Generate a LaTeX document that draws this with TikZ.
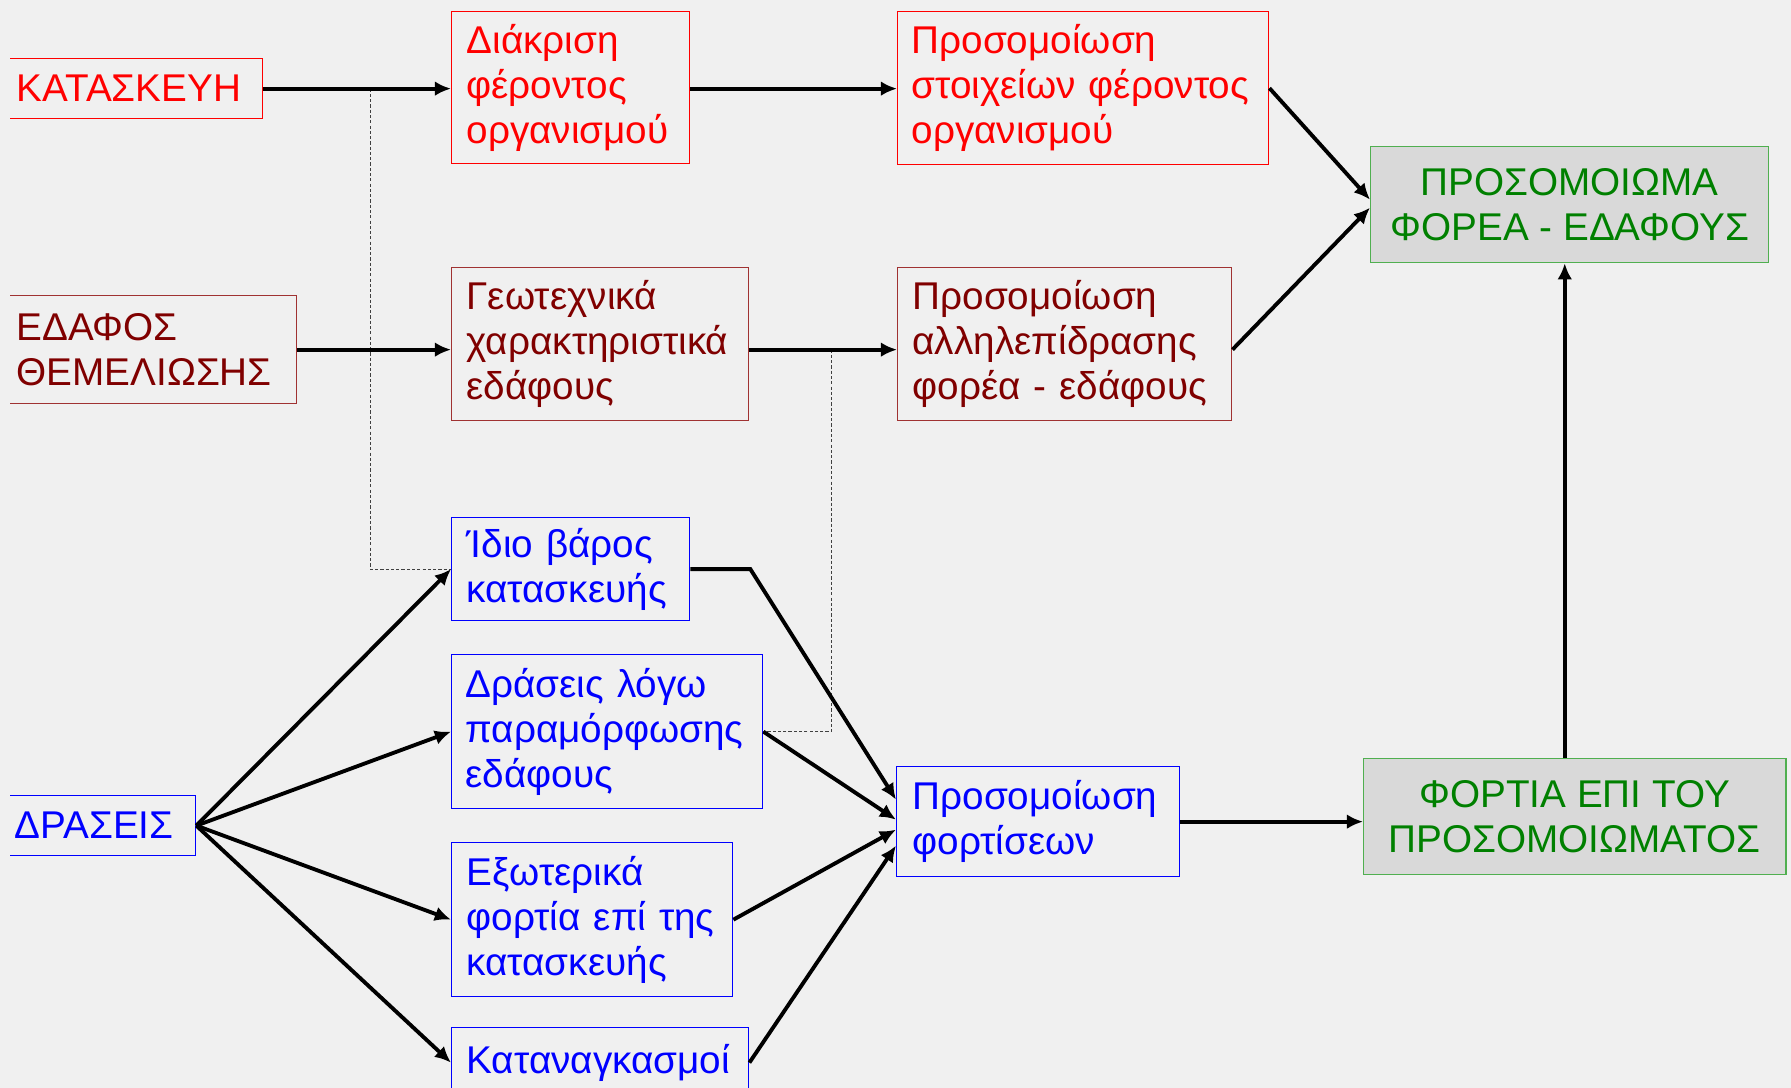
\documentclass[tikz,border=0pt]{standalone}
\usepackage{fontspec}
\setmainfont{Liberation Sans}
\usetikzlibrary{arrows.meta, positioning, calc}
\definecolor{bgcol}{RGB}{240,240,240}
\definecolor{txtred}{RGB}{255,0,0}
\definecolor{txtmaroon}{RGB}{128,0,0}
\definecolor{linemaroon}{RGB}{160,50,50}
\definecolor{txtblue}{RGB}{0,0,255}
\definecolor{txtgreen}{RGB}{0,128,0}
\definecolor{linegreen}{RGB}{80,175,80}
\definecolor{fillgrey}{RGB}{217,217,217}

\begin{document}
\begin{tikzpicture}[x=0.01cm, y=-0.01cm,
    box/.style={rectangle, anchor=north west, inner sep=0pt, align=left, line width=0.35pt, font=\fontsize{11}{12.8}\selectfont},
    redbox/.style={box, draw=txtred, text=txtred},
    maroonbox/.style={box, draw=linemaroon, text=txtmaroon},
    bluebox/.style={box, draw=txtblue, text=txtblue},
    result_box/.style={box, align=center, draw=linegreen, fill=fillgrey, text=txtgreen},
    arr/.style={-{Latex[length=4.6pt, width=4.2pt]}, line width=1.1pt, black},
    tap/.style={draw=gray!50!black, line width=0.3pt, dash pattern=on 0.9pt off 0.6pt}
]

\useasboundingbox (0,0) rectangle (1791,1088);
\fill[bgcol] (0,0) rectangle (1791,1088);
\clip (10,0) rectangle (1791,1088);

% structure and soil
\node[redbox, minimum width=2.62cm, minimum height=0.60cm, text width=2.30cm] (kat) at (0,58) {ΚΑΤΑΣΚΕΥΗ};
\node[redbox, minimum width=2.38cm, minimum height=1.52cm, text width=2.08cm] (dia) at (451,11) {Διάκριση\\φέροντος\\οργανισμού};
\node[redbox, minimum width=3.71cm, minimum height=1.53cm, text width=3.43cm] (stoix) at (897,11) {Προσομοίωση\\στοιχείων φέροντος\\οργανισμού};
\node[result_box, minimum width=3.98cm, minimum height=1.16cm] (model) at (1370,146) {ΠΡΟΣΟΜΟΙΩΜΑ\\ΦΟΡΕΑ - ΕΔΑΦΟΥΣ};
\node[maroonbox, minimum width=2.96cm, minimum height=1.08cm, text width=2.64cm] (edafos) at (0,295) {ΕΔΑΦΟΣ\\ΘΕΜΕΛΙΩΣΗΣ};
\node[maroonbox, minimum width=2.97cm, minimum height=1.53cm, text width=2.67cm] (geo) at (451,267) {Γεωτεχνικά\\χαρακτηριστικά\\εδάφους};
\node[maroonbox, minimum width=3.34cm, minimum height=1.53cm, text width=3.04cm] (allil) at (897,267) {Προσομοίωση\\αλληλεπίδρασης\\φορέα - εδάφους};

% actions
\node[bluebox, minimum width=2.38cm, minimum height=1.03cm, text width=2.08cm] (idio) at (451,517) {Ίδιο βάρος\\κατασκευής};
\node[bluebox, minimum width=3.11cm, minimum height=1.54cm, text width=2.83cm] (paramorf) at (451,654) {Δράσεις λόγω\\παραμόρφωσης\\εδάφους};
\node[bluebox, minimum width=1.95cm, minimum height=0.60cm, text width=1.67cm] (draseis) at (0,795) {ΔΡΑΣΕΙΣ};
\node[bluebox, minimum width=2.81cm, minimum height=1.54cm, text width=2.51cm] (ext) at (451,842) {Εξωτερικά\\φορτία επί της\\κατασκευής};
\node[bluebox, minimum width=2.97cm, minimum height=0.70cm, text width=2.67cm] (katan) at (451,1027) {Καταναγκασμοί};
\node[bluebox, minimum width=2.83cm, minimum height=1.10cm, text width=2.51cm] (fort) at (896,766) {Προσομοίωση\\φορτίσεων};
\node[result_box, minimum width=4.22cm, minimum height=1.16cm] (loads) at (1363,758) {ΦΟΡΤΙΑ ΕΠΙ ΤΟΥ\\ΠΡΟΣΟΜΟΙΩΜΑΤΟΣ};

\coordinate (tap1) at ($(kat.east)!0.57!(kat.east -| dia.west)$);
\coordinate (tap2) at ($(geo.east |- edafos.east)!0.557!(edafos.east -| allil.west)$);
\coordinate (mtip) at ($(model.south)+(-5,0)$);

\draw[tap] (tap1) |- (idio.west);
\draw[tap] (tap2) |- (paramorf.east);

\draw[arr] (kat.east) -- (kat.east -| dia.west);
\draw[arr] (dia.east |- kat.east) -- (kat.east -| stoix.west);
\draw[arr] (edafos.east) -- (edafos.east -| geo.west);
\draw[arr] (geo.east |- edafos.east) -- (edafos.east -| allil.west);
\draw[arr] (stoix.east) -- ($(model.west)+(0,-5)$);
\draw[arr] (allil.east |- edafos.east) -- ($(model.west)+(0,3)$);

\draw[arr] (draseis.east) -- (idio.west);
\draw[arr] (draseis.east) -- (paramorf.west);
\draw[arr] (draseis.east) -- (ext.west);
\draw[arr] (draseis.east) -- (katan.west);

\draw[arr] (idio.east) -- ++(60,0) -- ($(fort.west)+(0,-22)$);
\draw[arr] (paramorf.east) -- ($(fort.west)+(0,-2)$);
\draw[arr] (ext.east) -- ($(fort.west)+(0,8)$);
\draw[arr] (katan.east) -- ($(fort.west)+(0,24)$);

\draw[arr] (fort.east) -- (fort.east -| loads.west);
\draw[arr] (mtip |- loads.north) -- (mtip);

\end{tikzpicture}
\end{document}
